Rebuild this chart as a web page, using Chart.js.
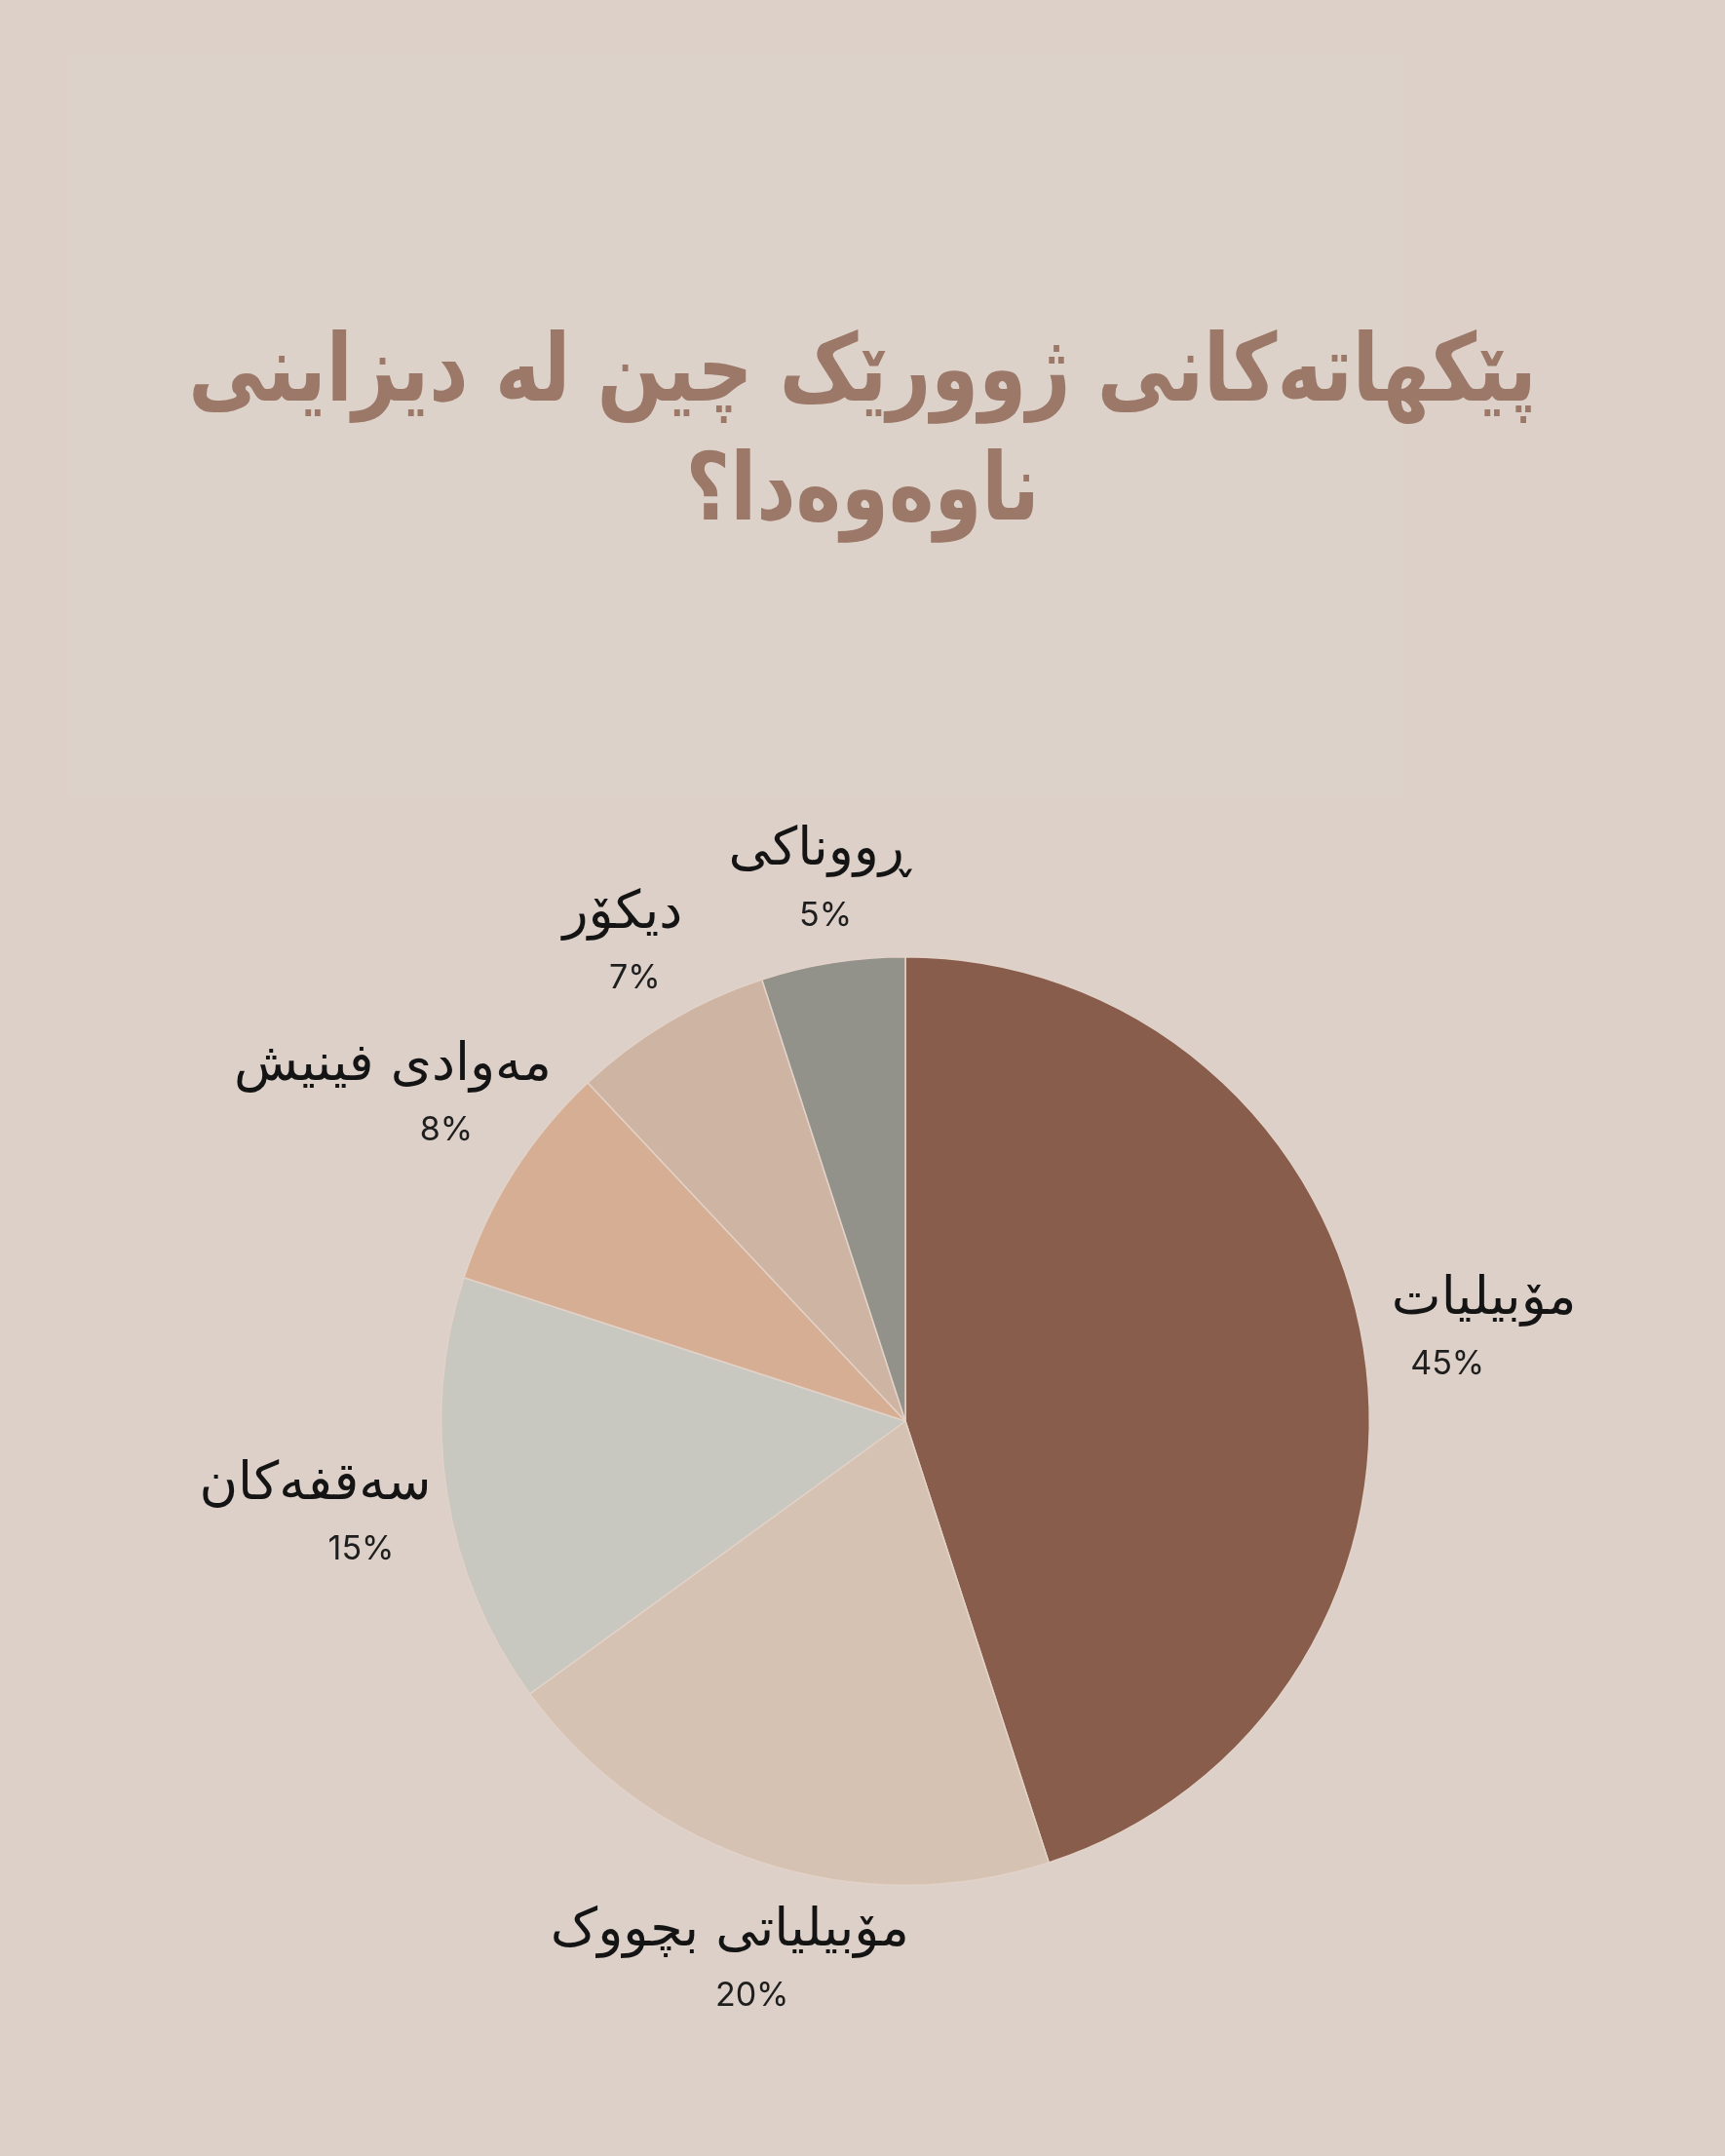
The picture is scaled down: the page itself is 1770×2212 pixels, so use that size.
<!DOCTYPE html>
<html lang="ckb">
<head>
<meta charset="utf-8">
<script src="https://cdn.jsdelivr.net/npm/chart.js@4.4.1/dist/chart.umd.min.js"></script>
<style>
  html, body { margin: 0; padding: 0; background: #dcd0c8; }
  #pieChart { display: block; }
</style>
</head>
<body>
<canvas id="pieChart" width="1770" height="2212"></canvas>
<script>
// chart data
const titleLines = ["پێکهاتەکانی ژوورێک چین لە دیزاینی", "ناوەوەدا؟"];
const categories = ["مۆبیلیات", "مۆبیلیاتی بچووک", "سەقفەکان", "مەوادی فینیش", "دیکۆر", "ڕووناکی"];
const shares = [45, 20, 15, 8, 7, 5];
const sliceColors = ["#885d4c", "#d5c2b3", "#c8c8c0", "#d6ae93", "#ceb4a3", "#92918a"];

// background + title
const backdrop = {
  id: "backdrop",
  beforeDraw(chart) {
    const { ctx, width, height } = chart;
    ctx.save();
    ctx.fillStyle = "#dcd0c8";
    ctx.fillRect(0, 0, width, height);
    ctx.fillStyle = "#ddd2ca";
    ctx.fillRect(70, 56, 1370, 762);
    ctx.fillStyle = "#9b7867";
    ctx.direction = "rtl";
    ctx.textAlign = "center";
    ctx.textBaseline = "middle";
    ctx.font = "bold 96px 'DejaVu Sans'";
    // squeeze horizontally, the original face is condensed
    ctx.translate(885, 0);
    ctx.scale(0.82, 1);
    titleLines.forEach((line, i) => ctx.fillText(line, 0, 386 + i * 122));
    ctx.restore();
  },
};

// labels outside each slice
const sliceLabels = {
  id: "sliceLabels",
  afterDatasetsDraw(chart) {
    const { ctx } = chart;
    const arcs = chart.getDatasetMeta(0).data;
    ctx.save();
    ctx.textAlign = "center";
    ctx.textBaseline = "middle";
    arcs.forEach((arc, i) => {
      const { x, y, startAngle, endAngle, outerRadius } = arc.getProps(
        ["x", "y", "startAngle", "endAngle", "outerRadius"], true);
      const mid = (startAngle + endAngle) / 2;
      ctx.font = "54px 'DejaVu Sans'";
      ctx.direction = "rtl";
      const w = ctx.measureText(categories[i]).width;
      const d = outerRadius + 78 + Math.abs(Math.cos(mid)) * w * 0.25;
      const cx = x + Math.cos(mid) * d;
      const cy = y + Math.sin(mid) * d;
      ctx.fillStyle = "#141414";
      ctx.fillText(categories[i], cx, cy - 30);
      ctx.direction = "ltr";
      ctx.font = "34px Inter";
      ctx.fillStyle = "#1e1e1e";
      ctx.fillText(shares[i] + "%", cx - Math.cos(mid) * w * 0.2, cy + 36);
    });
    ctx.restore();
  },
};

new Chart(document.getElementById("pieChart"), {
  type: "pie",
  data: {
    labels: categories,
    datasets: [{
      data: shares,
      backgroundColor: sliceColors,
      borderColor: "#e2d2c8",
      borderWidth: 1.5,
    }],
  },
  options: {
    responsive: false,
    animation: false,
    layout: { padding: { left: 452, right: 364, top: 981, bottom: 277 } },
    plugins: { legend: { display: false }, tooltip: { enabled: false } },
  },
  plugins: [backdrop, sliceLabels],
});
</script>
</body>
</html>
